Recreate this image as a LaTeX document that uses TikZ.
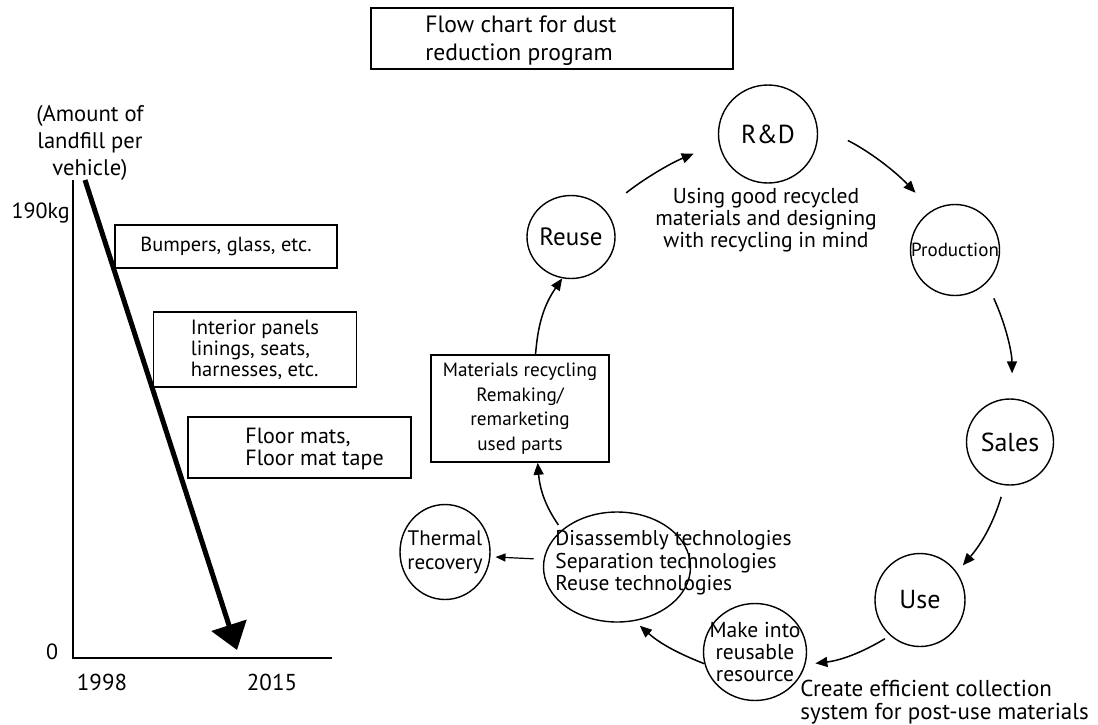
\documentclass[tikz,border=0pt]{standalone}
\usepackage{fontspec}
\setmainfont{PT Sans}
\usetikzlibrary{shapes.geometric, arrows.meta}

\begin{document}
\begin{tikzpicture}[x=0.5pt, y=-0.5pt,
        box/.style={draw, line width=0.8pt, inner sep=0pt},
        ring/.style={draw, ellipse, line width=0.7pt, inner sep=-30pt},
        flow/.style={line width=0.75pt, -{Triangle[length=6pt, width=5pt]}},
        txt/.style={font=\fontsize{10.5}{11}\selectfont, align=center},
        big/.style={font=\fontsize{13}{13}\selectfont}]
    \useasboundingbox (0,0) rectangle (1098,724);

    % Titolo
    \node[box, minimum width=181pt, minimum height=30.5pt] (title) at (552,38.5) {};
    \node[txt, align=left, anchor=west, inner sep=0pt, font=\fontsize{11.8}{14}\selectfont] (titletext) at (425,41) {Flow chart for dust\\reduction program};

    % Assi del grafico
    \coordinate (origin) at (73,658);
    \coordinate (ytop) at (73,180);
    \coordinate (xend) at (332,658);
    \draw[line width=0.8pt] (ytop) -- (origin) -- (xend);
    \node[txt, anchor=east, inner sep=0pt, font=\fontsize{11}{11}\selectfont] (kg) at (70,213) {190kg};
    \node[txt, font=\fontsize{11}{11}\selectfont] (zero) at (52,652) {0};
    \node[txt, font=\fontsize{11.5}{11}\selectfont] (y1998) at (102,682) {1998};
    \node[txt, font=\fontsize{11.5}{11}\selectfont] (y2015) at (272,682) {2015};
    \node[txt, font=\fontsize{11.3}{13.5}\selectfont] (unit) at (90,143) {(Amount of\\landfill per\\vehicle)};

    % Categorie
    \node[box, txt, font=\fontsize{10.2}{11}\selectfont, minimum width=111pt, minimum height=21.5pt] (bumpers) at (226,246.5) {Bumpers, glass, etc.};
    \node[box, txt, align=left, font=\fontsize{10.3}{10.5}\selectfont, minimum width=101.5pt, minimum height=37.5pt] (interior) at (255,349.5) {Interior panels\\linings, seats,\\harnesses, etc.};
    \node[box, minimum width=111.5pt, minimum height=30.5pt] (floor) at (299.5,447.5) {};
    \node[txt, align=left, anchor=west, inner sep=0pt, font=\fontsize{11}{11}\selectfont] (floortext) at (245,449) {Floor mats,\\Floor mat tape};

    % Freccia di riduzione
    \coordinate (start) at (85,180);
    \coordinate (end) at (237,650);
    \draw[line width=2.5pt, -{Triangle[length=13pt, width=18pt]}] (start) -- (end);

    % Ciclo
    \node[ring, big, minimum width=49.5pt, minimum height=49pt] (rnd) at (768,134) {R\&D};
    \node[txt, font=\fontsize{10.8}{11}\selectfont] (rndnote) at (766,220) {Using good recycled\\materials and designing\\with recycling in mind};
    \node[ring, font=\fontsize{9.5}{10}\selectfont, minimum width=44.5pt, minimum height=45.5pt] (prod) at (955,250) {Production};
    \node[ring, big, minimum width=43.5pt, minimum height=43pt] (sales) at (1010,442) {Sales};
    \node[ring, big, minimum width=45pt, minimum height=46.5pt] (use) at (920,600) {Use};
    \node[ring, txt, font=\fontsize{10.8}{11}\selectfont, minimum width=51.5pt, minimum height=48.5pt] (make) at (755,652) {Make into\\reusable\\resource};
    \node[txt, align=left, anchor=west, inner sep=0pt, font=\fontsize{11.5}{11.5}\selectfont] (collect) at (800,702) {Create efficient collection\\system for post-use materials};
    \node[ring, minimum width=73.5pt, minimum height=55pt] (dis) at (617,567) {};
    \node[txt, align=left, anchor=west, inner sep=0pt, font=\fontsize{10.7}{11.25}\selectfont] (distext) at (555,563) {Disassembly technologies\\Separation technologies\\Reuse technologies};
    \node[ring, txt, font=\fontsize{10.5}{12}\selectfont, minimum width=45pt, minimum height=47.5pt] (thermal) at (445,552) {Thermal\\recovery};
    \node[box, font=\fontsize{9.6}{12.25}\selectfont, align=center, minimum width=89pt, minimum height=53.5pt] (mat) at (520,408.5) {Materials recycling\\Remaking/\\remarketing\\used parts};
    \node[ring, font=\fontsize{12.5}{13}\selectfont, minimum width=44pt, minimum height=41.5pt] (reuse) at (571,237) {Reuse};

    % Frecce del ciclo
    \draw[flow, shorten <=13.5pt, shorten >=13.5pt] (reuse.39) to[bend left=8] (rnd.191);
    \draw[flow, shorten <=17pt, shorten >=12pt] (rnd.10) to[bend left=10] (prod.120);
    \draw[flow, shorten <=8.5pt, shorten >=12.5pt] (prod.-46) to[bend left=12] (sales.87);
    \draw[flow, shorten <=6pt, shorten >=4.5pt] (sales.-97) to[bend left=12] (use.37);
    \draw[flow, shorten <=3pt, shorten >=5pt] (use.230) to[bend left=12] (make.-14);
    \draw[flow, shorten >=3.5pt] (make.193) to[bend left=10] (dis.-72);
    \draw[flow, shorten <=3pt] (dis.146) to[bend left=15] (mat.-72);
    \draw[flow] (mat.74) to[bend left=15] (reuse.258);
    \draw[line width=0.6pt, -{Triangle[length=5pt, width=4pt]}, shorten <=5pt, shorten >=2.5pt] (dis.174) -- (thermal.-6);
\end{tikzpicture}
\end{document}
